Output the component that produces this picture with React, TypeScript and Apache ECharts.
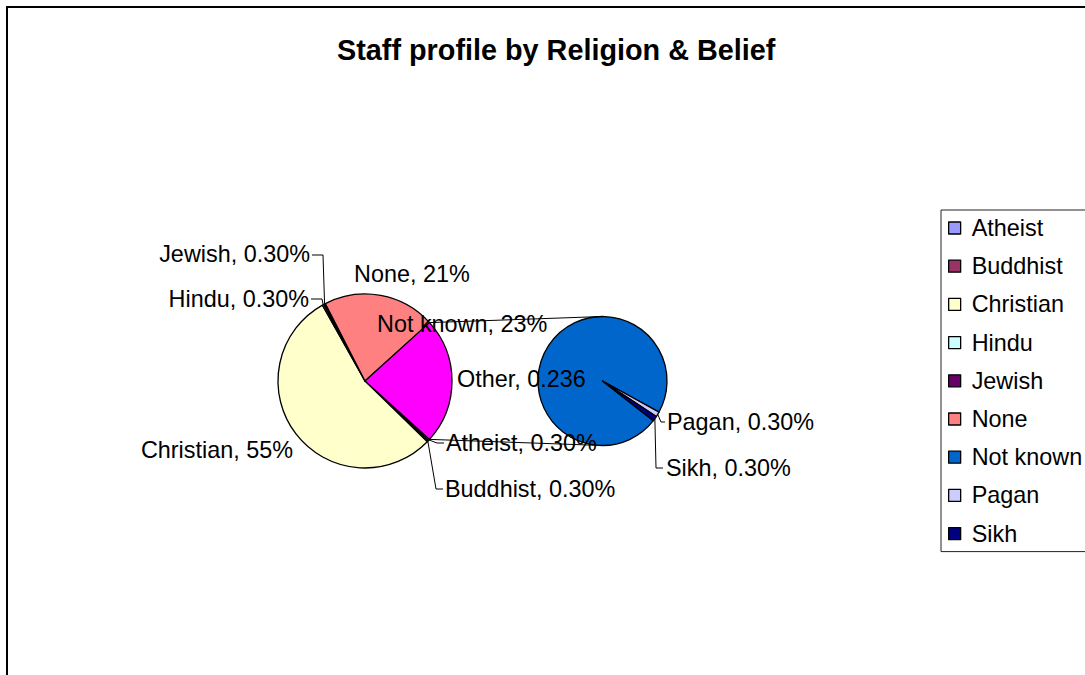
import React, { useEffect, useRef } from 'react';
import * as echarts from 'echarts';

// ---- data ----
const chartTitle = 'Staff profile by Religion & Belief';
const categories = ['Atheist', 'Buddhist', 'Christian', 'Hindu', 'Jewish', 'None', 'Not known', 'Pagan', 'Sikh'];
const shares = [0.003, 0.003, 0.55, 0.003, 0.003, 0.21, 0.23, 0.003, 0.003];
const colors = ['#9999FF', '#993366', '#FFFFCC', '#CCFFFF', '#660066', '#FF8080', '#0066CC', '#CCCCFF', '#000080'];
const secondPlotNames = ['Not known', 'Pagan', 'Sikh'];
const otherName = 'Other';
const otherColor = '#FF00FF';

// ---- layout / style ----
const FONT = '"Liberation Sans", Arial, Helvetica, sans-serif';
const LABEL_SIZE = 23.4;
const PIE1 = { cx: 365, cy: 381, r: 87 };
const PIE2 = { cx: 602.5, cy: 381, r: 64.5 };
const PIE2_START = 322;

type Spot = { x: number; y: number; align: 'left' | 'right'; elbow?: [number, number]; end?: [number, number] };
const labelSpots: Record<string, Spot> = {
  Atheist: { x: 446, y: 443, align: 'left', elbow: [437, 443], end: [444, 443] },
  Buddhist: { x: 445, y: 489, align: 'left', elbow: [436, 489], end: [443, 489] },
  Christian: { x: 293, y: 450, align: 'right' },
  Hindu: { x: 309, y: 299, align: 'right', elbow: [322, 299], end: [311, 299] },
  Jewish: { x: 310, y: 254, align: 'right', elbow: [323, 255], end: [312, 255] },
  None: { x: 354, y: 274, align: 'left' },
  Other: { x: 457, y: 379, align: 'left' },
  'Not known': { x: 377, y: 324, align: 'left' },
  Pagan: { x: 667, y: 422, align: 'left', elbow: [661, 422], end: [665, 422] },
  Sikh: { x: 666, y: 468, align: 'left', elbow: [656, 468], end: [663, 468] },
};

function fmtValue(name: string, v: number) {
  if (name === otherName) return String(Number(v.toFixed(3)));
  if (v < 0.01) return (v * 100).toFixed(2) + '%';
  return Math.round(v * 100) + '%';
}

function midPoint(pie: { cx: number; cy: number; r: number }, start: number, values: number[], idx: number) {
  const total = values.reduce((a, b) => a + b, 0);
  let cum = 0;
  for (let i = 0; i < idx; i++) cum += values[i];
  const ang = ((start - ((cum + values[idx] / 2) / total) * 360) * Math.PI) / 180;
  return [pie.cx + pie.r * Math.cos(ang), pie.cy - pie.r * Math.sin(ang)];
}

export default function App() {
  const ref = useRef<HTMLDivElement>(null);
  useEffect(() => {
    if (!ref.current) return;
    const chart = echarts.init(ref.current, undefined, { renderer: 'svg' });

    const firstIdx = categories.map((_, i) => i).filter((i) => !secondPlotNames.includes(categories[i]));
    const secondIdx = categories.map((_, i) => i).filter((i) => secondPlotNames.includes(categories[i]));
    const otherValue = secondIdx.reduce((a, i) => a + shares[i], 0);

    const pie1Names = [...firstIdx.map((i) => categories[i]), otherName];
    const pie1Values = [...firstIdx.map((i) => shares[i]), otherValue];
    const pie1Colors = [...firstIdx.map((i) => colors[i]), otherColor];
    const pie2Names = secondIdx.map((i) => categories[i]);
    const pie2Values = secondIdx.map((i) => shares[i]);
    const pie2Colors = secondIdx.map((i) => colors[i]);

    const total1 = pie1Values.reduce((a, b) => a + b, 0);
    const half = (otherValue / total1) * 180;
    const pie1Start = 360 - half;

    const mkData = (names: string[], values: number[], cols: string[]) =>
      names.map((n, i) => ({
        name: n,
        value: values[i],
        itemStyle: { color: cols[i] },
        labelLine: { show: !!labelSpots[n]?.elbow },
      }));

    const labelCfg = {
      show: true,
      position: 'outside',
      color: '#000',
      fontFamily: FONT,
      fontSize: LABEL_SIZE,
      overflow: 'none',
      formatter: (p: any) => `${p.name}, ${fmtValue(p.name, p.value)}`,
    };
    const labelLineCfg = { show: true, length: 5, length2: 5, lineStyle: { color: '#000', width: 1 } };

    const layoutFor = (names: string[], values: number[], pie: any, start: number) => (params: any) => {
      const n = names[params.dataIndex];
      const s = labelSpots[n];
      if (!s) return {};
      const out: any = { x: s.x, y: s.y, align: s.align, verticalAlign: 'middle' };
      if (s.elbow && s.end) {
        const edge = midPoint(pie, start, values, params.dataIndex);
        out.labelLinePoints = [edge, s.elbow, s.end];
      }
      return out;
    };

    const ha = (half * Math.PI) / 180;
    const topL = [PIE1.cx + PIE1.r * Math.cos(ha), PIE1.cy - PIE1.r * Math.sin(ha)];
    const botL = [PIE1.cx + PIE1.r * Math.cos(ha), PIE1.cy + PIE1.r * Math.sin(ha)];

    chart.setOption({
      animation: false,
      title: {
        text: chartTitle,
        left: 332,
        top: 30,
        textStyle: { fontFamily: FONT, fontWeight: 'bold', fontSize: 28.8, color: '#000' },
      },
      legend: {
        orient: 'vertical',
        left: 941,
        top: 210,
        data: categories,
        icon: 'rect',
        itemWidth: 12,
        itemHeight: 12,
        itemGap: 12.2,
        padding: [5, 60, 5, 7],
        borderColor: '#222',
        borderWidth: 1,
        selectedMode: false,
        itemStyle: { borderColor: '#000', borderWidth: 1.3 },
        textStyle: { fontFamily: FONT, fontSize: LABEL_SIZE, color: '#000', lineHeight: 26, padding: [0, 0, 0, 6] },
      },
      graphic: [
        {
          type: 'rect',
          z: -10,
          shape: { x: 7, y: 7, width: 1200, height: 800 },
          style: { fill: 'none', stroke: '#000', lineWidth: 2 },
        },
        {
          type: 'line',
          z: 10,
          shape: { x1: topL[0], y1: topL[1], x2: PIE2.cx, y2: PIE2.cy - PIE2.r },
          style: { stroke: '#000', lineWidth: 1 },
        },
        {
          type: 'line',
          z: 10,
          shape: { x1: botL[0], y1: botL[1], x2: PIE2.cx, y2: PIE2.cy + PIE2.r },
          style: { stroke: '#000', lineWidth: 1 },
        },
      ],
      series: [
        {
          type: 'pie',
          center: [PIE1.cx, PIE1.cy],
          radius: PIE1.r,
          startAngle: pie1Start,
          clockwise: true,
          avoidLabelOverlap: false,
          itemStyle: { borderColor: '#000', borderWidth: 1.3 },
          label: labelCfg,
          labelLine: labelLineCfg,
          labelLayout: layoutFor(pie1Names, pie1Values, PIE1, pie1Start),
          emphasis: { disabled: true },
          data: mkData(pie1Names, pie1Values, pie1Colors),
        },
        {
          type: 'pie',
          center: [PIE2.cx, PIE2.cy],
          radius: PIE2.r,
          startAngle: PIE2_START,
          clockwise: true,
          avoidLabelOverlap: false,
          itemStyle: { borderColor: '#000', borderWidth: 1.3 },
          label: labelCfg,
          labelLine: labelLineCfg,
          labelLayout: layoutFor(pie2Names, pie2Values, PIE2, PIE2_START),
          emphasis: { disabled: true },
          data: mkData(pie2Names, pie2Values, pie2Colors),
        },
      ],
    });
    return () => chart.dispose();
  }, []);
  return <div ref={ref} style={{ position: 'absolute', left: 0, top: 0, width: 1085, height: 675, background: '#fff' }} />;
}
